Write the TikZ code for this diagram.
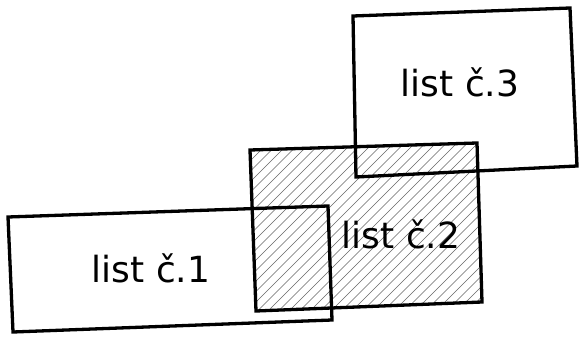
\documentclass[tikz,border=0pt]{standalone}
\usepackage{fontspec}
\setmainfont{DejaVu Sans}
\begin{document}
\begin{tikzpicture}[x=1pt,y=-1pt,
  sheet/.style={line width=3.3pt, line join=miter},
  hatch/.style={line width=0.55pt, draw=black!60},
  lbl/.style={font=\fontsize{36}{40}\selectfont, anchor=base, inner sep=0pt}]
\useasboundingbox (0,0) rectangle (579,337);
% sheet 1
\coordinate (a1) at (8,217);
\coordinate (a2) at (328,206);
\coordinate (a3) at (332,320);
\coordinate (a4) at (13,332);
% sheet 2
\coordinate (b1) at (250,150);
\coordinate (b2) at (477,143);
\coordinate (b3) at (482,302);
\coordinate (b4) at (256,311);
% sheet 3
\coordinate (c1) at (353,16);
\coordinate (c2) at (570,8);
\coordinate (c3) at (577,166);
\coordinate (c4) at (356,177);
% hatching of sheet 2
\begin{scope}
  \clip (b1) -- (b2) -- (b3) -- (b4) -- cycle;
  \foreach \k in {0,...,45} {
    \draw[hatch] (250+10.5*\k-200,340) -- (250+10.5*\k,140);
  }
\end{scope}
\draw[sheet] (a1) -- (a2) -- (a3) -- (a4) -- cycle;
\draw[sheet] (b1) -- (b2) -- (b3) -- (b4) -- cycle;
\draw[sheet] (c1) -- (c2) -- (c3) -- (c4) -- cycle;
\node[lbl] (t1) at (151,282) {list č.1};
\node[lbl] (t2) at (401,248) {list č.2};
\node[lbl] (t3) at (460,96) {list č.3};
\end{tikzpicture}
\end{document}
